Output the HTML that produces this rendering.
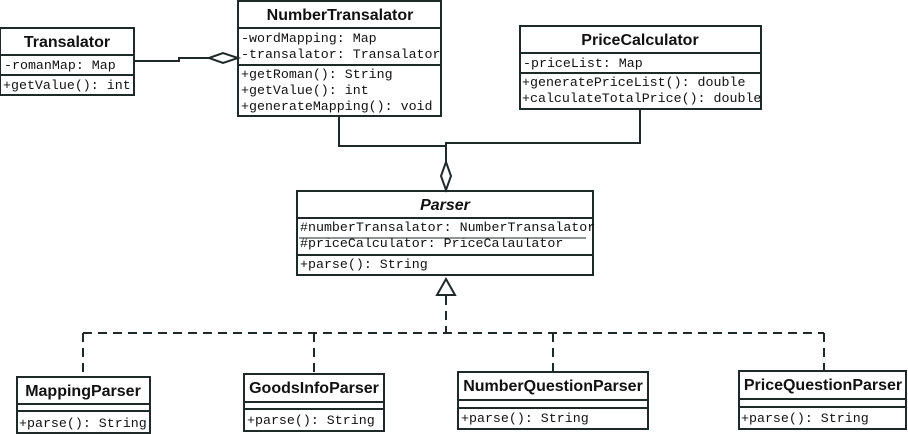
<!DOCTYPE html>
<html><head><style>body{margin:0;background:#fff}svg{display:block}
.t{font-family:"Liberation Sans",sans-serif;font-weight:bold;font-size:16px;fill:#111;text-anchor:middle}
.m{font-family:"Liberation Mono",monospace;font-size:13.3px;fill:#111}
</style></head><body>
<svg width="908" height="434" viewBox="0 0 908 434" xmlns="http://www.w3.org/2000/svg">
<g fill="none" stroke="#1f2a28" stroke-width="2">
<rect x="0" y="28" width="134" height="67" fill="#fff"/>
<line x1="0" y1="55" x2="134" y2="55"/><line x1="0" y1="75" x2="134" y2="75"/>
<rect x="238" y="1" width="203" height="115" fill="#fff"/>
<line x1="238" y1="28" x2="441" y2="28"/><line x1="238" y1="65" x2="441" y2="65"/>
<rect x="520" y="26" width="241" height="83" fill="#fff"/>
<line x1="520" y1="53" x2="761" y2="53"/><line x1="520" y1="73" x2="761" y2="73"/>
<rect x="297" y="191" width="296" height="84" fill="#fff"/>
<line x1="297" y1="218" x2="593" y2="218"/><line x1="297" y1="255" x2="593" y2="255"/>
<line x1="299" y1="238" x2="586" y2="238" stroke-width="1"/>
<rect x="17" y="377" width="133" height="56" fill="#fff"/>
<line x1="17" y1="404" x2="150" y2="404"/><line x1="17" y1="411" x2="150" y2="411"/>
<rect x="244" y="374" width="140" height="57" fill="#fff"/>
<line x1="244" y1="402" x2="384" y2="402"/><line x1="244" y1="409" x2="384" y2="409"/>
<rect x="458" y="372" width="190" height="57" fill="#fff"/>
<line x1="458" y1="400" x2="648" y2="400"/><line x1="458" y1="408" x2="648" y2="408"/>
<rect x="739" y="371" width="167" height="58" fill="#fff"/>
<line x1="739" y1="399" x2="906" y2="399"/><line x1="739" y1="407" x2="906" y2="407"/>
<polyline points="134,61 179,61 179,58 209,58"/>
<polygon points="209,58 223,53 238,58 223,63" fill="#fff"/>
<polyline points="339,116 339,146 446,146"/>
<polyline points="640,109 640,143 446,143 446,162"/>
<polygon points="446,162 451,176 446,190 441,176" fill="#fff"/>
<polygon points="446,279 455,295 437,295" fill="#fff"/>
<g stroke-dasharray="9,6">
<line x1="446" y1="296" x2="446" y2="333"/>
<line x1="83" y1="333" x2="824" y2="333"/>
<line x1="83" y1="333" x2="83" y2="376"/>
<line x1="314" y1="333" x2="314" y2="373"/>
<line x1="553" y1="333" x2="553" y2="371"/>
<line x1="824" y1="333" x2="824" y2="370"/>
</g>
</g>
<text class="t" x="67" y="47">Transalator</text>
<text class="m" x="4" y="69">-romanMap: Map</text>
<text class="m" x="3" y="89">+getValue(): int</text>
<text class="t" x="340" y="20">NumberTransalator</text>
<text class="m" x="241" y="42">-wordMapping: Map</text>
<text class="m" x="241" y="58">-transalator: Transalator</text>
<text class="m" x="241" y="78">+getRoman(): String</text>
<text class="m" x="241" y="94">+getValue(): int</text>
<text class="m" x="241" y="110">+generateMapping(): void</text>
<text class="t" x="640" y="45">PriceCalculator</text>
<text class="m" x="523" y="67">-priceList: Map</text>
<text class="m" x="522" y="86">+generatePriceList(): double</text>
<text class="m" x="522" y="102">+calculateTotalPrice(): double</text>
<text class="t" x="445" y="210" font-style="italic">Parser</text>
<text class="m" x="300" y="231">#numberTransalator: NumberTransalator</text>
<text class="m" x="300" y="247">#priceCalculator: PriceCalaulator</text>
<text class="m" x="300" y="268">+parse(): String</text>
<text class="t" x="83" y="396">MappingParser</text>
<text class="m" x="19" y="427">+parse(): String</text>
<text class="t" x="314" y="393">GoodsInfoParser</text>
<text class="m" x="247" y="424">+parse(): String</text>
<text class="t" x="553" y="391">NumberQuestionParser</text>
<text class="m" x="461" y="422">+parse(): String</text>
<text class="t" x="823" y="390">PriceQuestionParser</text>
<text class="m" x="741" y="422">+parse(): String</text>
</svg>
</body></html>
